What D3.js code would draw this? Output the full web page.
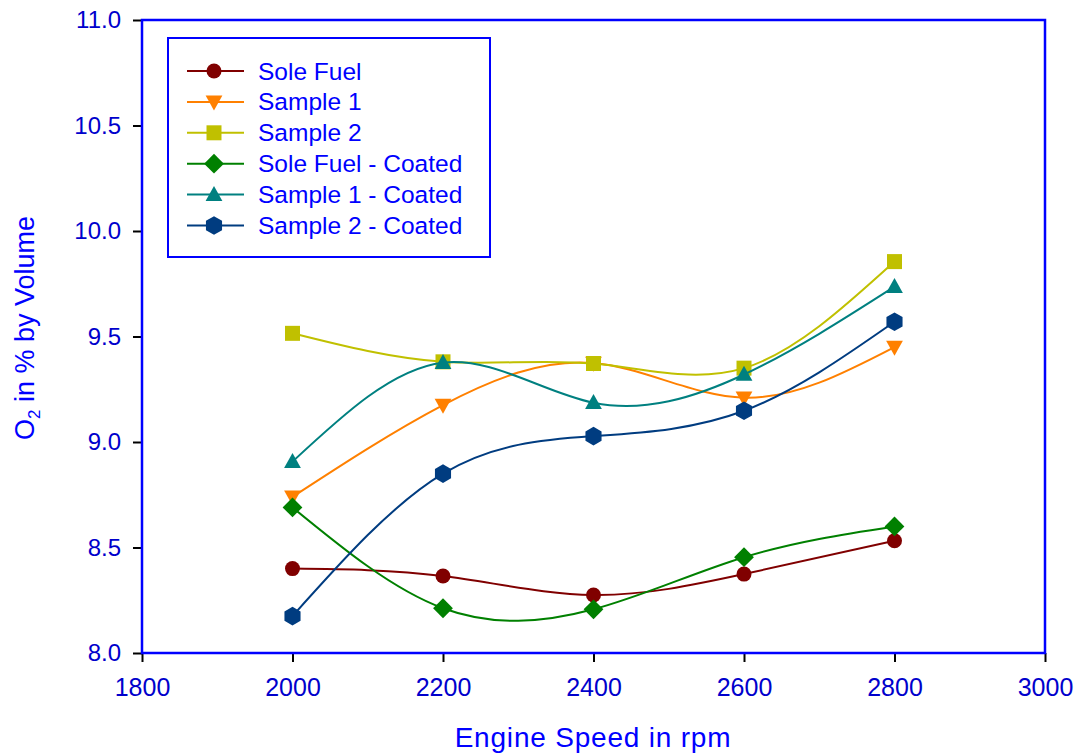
<!DOCTYPE html>
<html>
<head>
<meta charset="utf-8">
<script src="https://cdn.jsdelivr.net/npm/d3@7"></script>
<style>
  html, body { margin: 0; padding: 0; background: #fff; }
  svg { display: block; font-family: "Liberation Sans", Arial, sans-serif; }
</style>
</head>
<body>
<svg id="chart" width="1074" height="756"></svg>
<script>
// Engine speed (rpm) and O2 readings (% by volume) per fuel blend
const speeds = [2000, 2200, 2400, 2600, 2800];
const soleFuel = [8.40, 8.365, 8.275, 8.374, 8.532];
const sample1 = [8.74, 9.175, 9.374, 9.21, 9.45];
const sample2 = [9.515, 9.38, 9.372, 9.35, 9.855];
const soleFuelCoated = [8.69, 8.212, 8.207, 8.454, 8.60];
const sample1Coated = [8.907, 9.376, 9.186, 9.32, 9.736];
const sample2Coated = [8.175, 8.85, 9.028, 9.148, 9.57];

const seriesNames = ["Sole Fuel", "Sample 1", "Sample 2", "Sole Fuel - Coated", "Sample 1 - Coated", "Sample 2 - Coated"];
const seriesValues = [soleFuel, sample1, sample2, soleFuelCoated, sample1Coated, sample2Coated];
const seriesColors = ["#800000", "#ff8000", "#c0c000", "#008000", "#008080", "#003c80"];
const seriesShapes = ["circle", "triangleDown", "square", "diamond", "triangleUp", "hexagon"];

const xTicks = [1800, 2000, 2200, 2400, 2600, 2800, 3000];
const yTicks = [8.0, 8.5, 9.0, 9.5, 10.0, 10.5, 11.0];

const svg = d3.select("#chart");
const plotLeft = 142, plotRight = 1045, plotTop = 20, plotBottom = 653;

const x = d3.scaleLinear().domain([1800, 3000]).range([plotLeft, plotRight]);
const y = d3.scaleLinear().domain([8, 11]).range([plotBottom, plotTop]);

const labelBlue = "#0000cc";
const frameBlue = "#0000ff";

// Axes with black outward ticks
const xAxis = svg.append("g").attr("transform", `translate(0,${plotBottom})`)
  .call(d3.axisBottom(x).tickValues(xTicks).tickSize(9).tickPadding(16).tickFormat(d3.format("d")));
const yAxis = svg.append("g").attr("transform", `translate(${plotLeft},0)`)
  .call(d3.axisLeft(y).tickValues(yTicks).tickSize(9).tickPadding(12).tickFormat(d3.format(".1f")));
[xAxis, yAxis].forEach(g => {
  g.select(".domain").remove();
  g.selectAll(".tick line").attr("stroke", "#000").attr("stroke-width", 2);
  g.selectAll(".tick text").attr("fill", labelBlue)
    .attr("font-family", "'Liberation Sans', Arial, sans-serif");
});
xAxis.selectAll(".tick text").attr("font-size", 25);
yAxis.selectAll(".tick text").attr("font-size", 24);

// Plot frame
svg.append("rect")
  .attr("x", plotLeft).attr("y", plotTop)
  .attr("width", plotRight - plotLeft).attr("height", plotBottom - plotTop)
  .attr("fill", "none").attr("stroke", frameBlue).attr("stroke-width", 2.5);

// Axis titles
svg.append("text")
  .attr("x", 593).attr("y", 747)
  .attr("text-anchor", "middle").attr("fill", frameBlue)
  .attr("font-size", 28).attr("letter-spacing", 0.8)
  .text("Engine Speed in rpm");

const yTitle = svg.append("text")
  .attr("transform", `translate(34,328) rotate(-90)`)
  .attr("text-anchor", "middle").attr("fill", frameBlue)
  .attr("font-size", 27);
yTitle.append("tspan").text("O");
yTitle.append("tspan").attr("font-size", 17).attr("dy", 6).text("2");
yTitle.append("tspan").attr("dy", -6).text(" in % by Volume");

// Marker shapes (s = nominal size in px)
function markerPath(shape, s) {
  switch (shape) {
    case "circle": return d3.symbol(d3.symbolCircle, s * s * Math.PI / 4)();
    case "square": return `M${-s/2},${-s/2}h${s}v${s}h${-s}Z`;
    case "diamond": { const r = s * 0.66; return `M0,${-r}L${r},0L0,${r}L${-r},0Z`; }
    case "triangleUp": { const w = s * 0.56; return `M0,${-s*0.58}L${w},${s*0.42}L${-w},${s*0.42}Z`; }
    case "triangleDown": { const w = s * 0.56; return `M0,${s*0.58}L${w},${-s*0.42}L${-w},${-s*0.42}Z`; }
    case "hexagon": {
      const r = s * 0.62;
      const pts = d3.range(6).map(i => {
        const a = Math.PI / 3 * i - Math.PI / 2;
        return [r * Math.cos(a), r * Math.sin(a)];
      });
      return "M" + pts.map(p => p.join(",")).join("L") + "Z";
    }
  }
}
const markerSize = 15;

const line = d3.line()
  .x((d, i) => x(speeds[i]))
  .y(d => y(d))
  .curve(d3.curveNatural);

const plot = svg.append("g");
seriesValues.forEach((vals, k) => {
  const g = plot.append("g");
  g.append("path")
    .attr("d", line(vals))
    .attr("fill", "none")
    .attr("stroke", seriesColors[k])
    .attr("stroke-width", 2);
  g.selectAll("path.mk").data(vals).enter().append("path")
    .attr("class", "mk")
    .attr("transform", (d, i) => `translate(${x(speeds[i])},${y(d)})`)
    .attr("d", markerPath(seriesShapes[k], markerSize))
    .attr("fill", seriesColors[k]);
});

// Legend
const legend = svg.append("g");
legend.append("rect")
  .attr("x", 168).attr("y", 38).attr("width", 322).attr("height", 219)
  .attr("fill", "#fff").attr("stroke", frameBlue).attr("stroke-width", 2);
seriesNames.forEach((name, k) => {
  const ly = 71 + k * 30.9;
  legend.append("line")
    .attr("x1", 187).attr("x2", 244).attr("y1", ly).attr("y2", ly)
    .attr("stroke", seriesColors[k]).attr("stroke-width", 2);
  legend.append("path")
    .attr("transform", `translate(214,${ly})`)
    .attr("d", markerPath(seriesShapes[k], markerSize))
    .attr("fill", seriesColors[k]);
  legend.append("text")
    .attr("x", 258).attr("y", ly + 8.5)
    .attr("fill", frameBlue).attr("font-size", 24.5)
    .text(name);
});
</script>
</body>
</html>
